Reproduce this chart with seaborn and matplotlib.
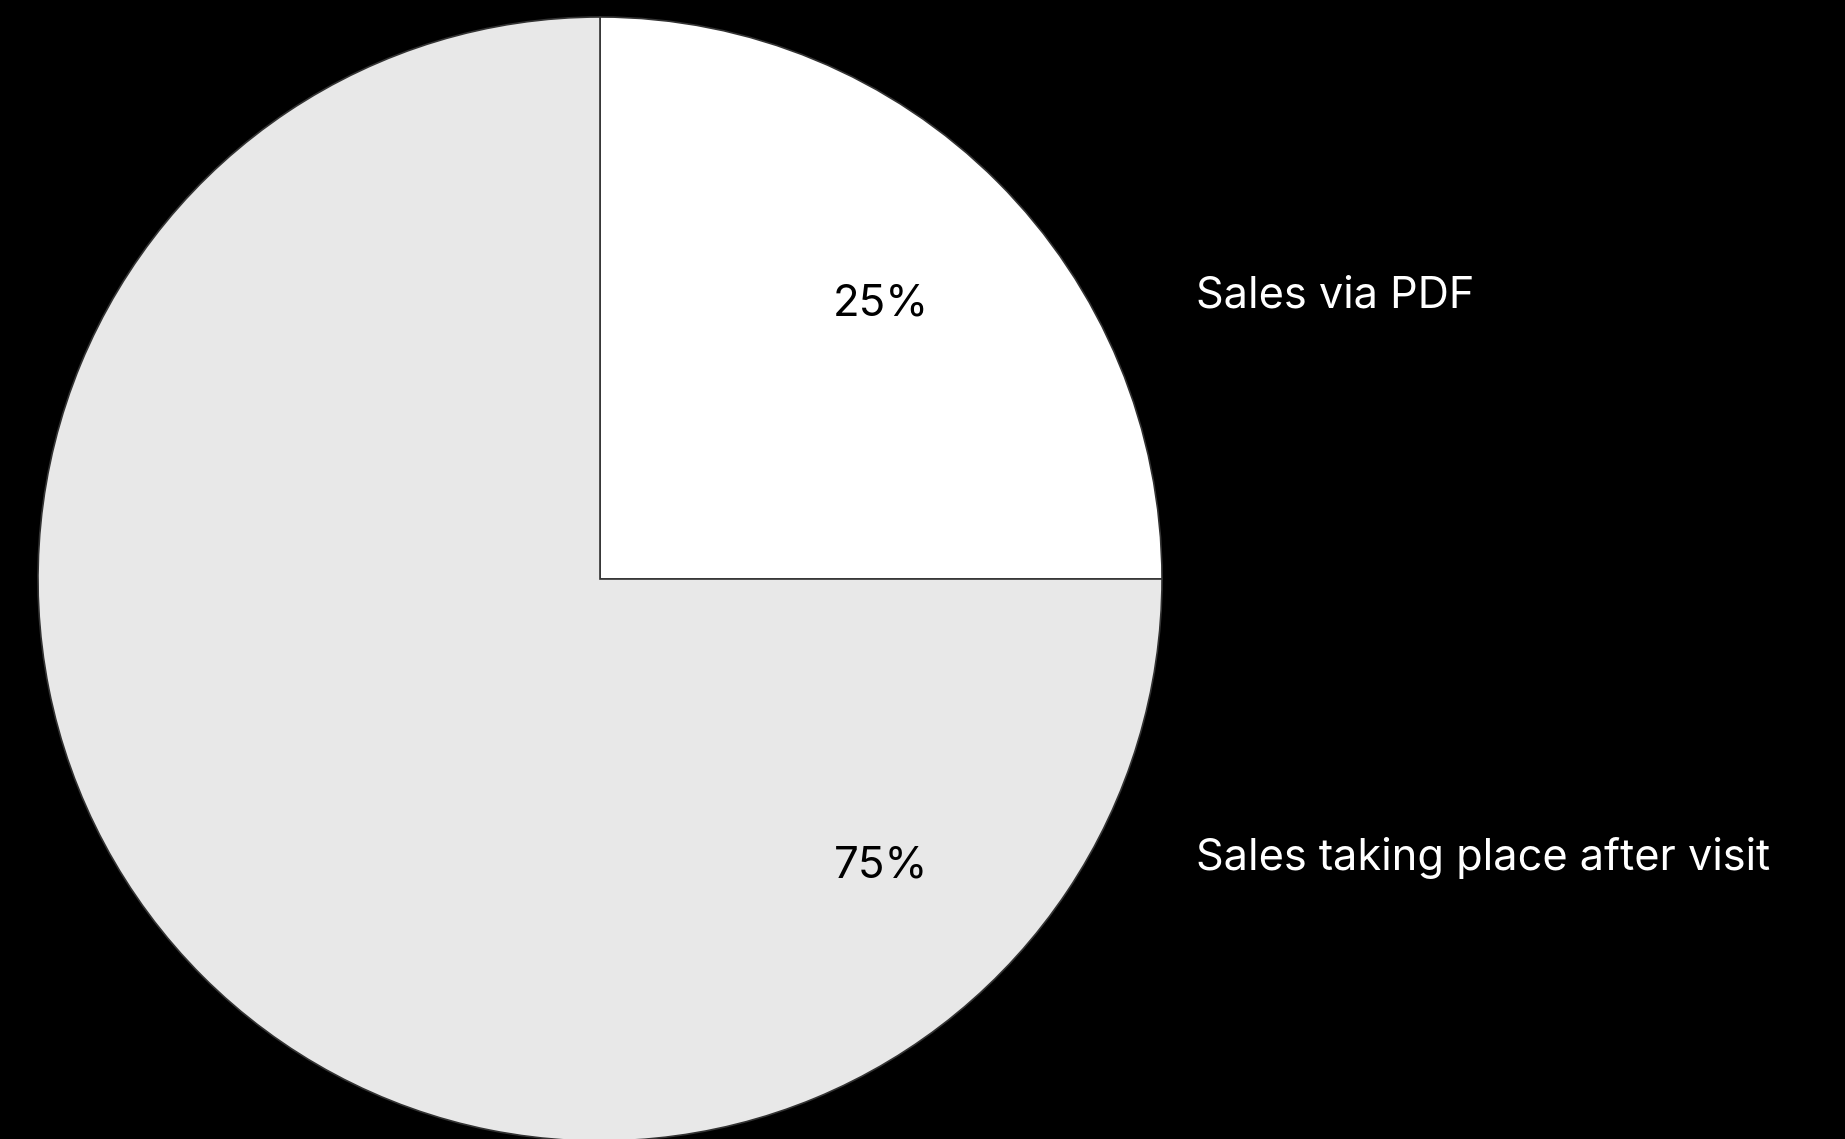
import matplotlib
matplotlib.use("Agg")
import matplotlib.pyplot as plt
import numpy as np
import seaborn as sns

# data
categories = ["Sales via PDF", "Sales taking place after visit"]
shares = [25, 75]
pct_labels = ["25%", "75%"]
slice_colors = ["#ffffff", "#e8e8e8"]

sns.set_theme(style="white")
plt.rcParams["font.family"] = ["Inter", "DejaVu Sans"]

W, H = 1845, 1139
fig = plt.figure(figsize=(W / 100, H / 100), dpi=100, facecolor="black")

# pie centre and radius in pixels
cx, cy, r = 600, 579, 562
ax = fig.add_axes([(cx - r) / W, (H - cy - r) / H, 2 * r / W, 2 * r / H])
ax.set_facecolor("black")
ax.axis("off")

ax.pie(
    shares,
    colors=slice_colors,
    startangle=90,
    counterclock=False,
    radius=1,
    wedgeprops=dict(edgecolor="#333333", linewidth=1.2),
)
ax.set_xlim(-1, 1)
ax.set_ylim(-1, 1)

# labels sit in the right half, one per quadrant
ys = [0.5, -0.5]
for y, pct, name in zip(ys, pct_labels, categories):
    ax.text(0.5, y - 0.01, pct, ha="center", va="center", fontsize=31.5,
            color="black")
    ax.text(1.06, y + 0.003, name, ha="left", va="center", fontsize=31.2,
            color="white", clip_on=False)

fig.savefig("out.png", dpi=100, facecolor="black")
